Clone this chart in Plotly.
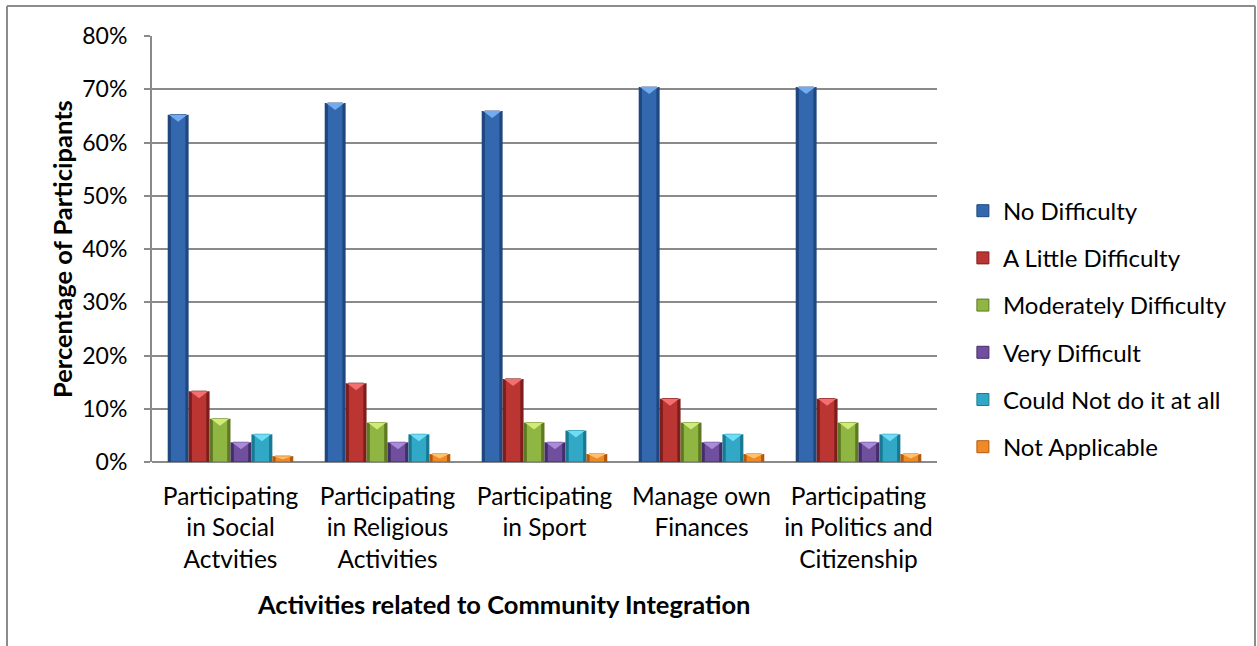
import plotly.graph_objects as go

# Survey results: share of participants by difficulty level, per activity
activities = [
    "Participating<br>in Social<br>Actvities",
    "Participating<br>in Religious<br>Activities",
    "Participating<br>in Sport",
    "Manage own<br>Finances",
    "Participating<br>in Politics and<br>Citizenship",
]
levels = [
    "No Difficulty",
    "A Little Difficulty",
    "Moderately Difficulty",
    "Very Difficult",
    "Could Not do it at all",
    "Not Applicable",
]
no_difficulty = [65.2, 67.4, 65.9, 70.4, 70.4]
a_little_difficulty = [13.3, 14.8, 15.6, 11.9, 11.9]
moderately_difficulty = [8.1, 7.4, 7.4, 7.4, 7.4]
very_difficult = [3.7, 3.7, 3.7, 3.7, 3.7]
could_not_do = [5.2, 5.2, 5.9, 5.2, 5.2]
not_applicable = [1.1, 1.5, 1.5, 1.5, 1.5]
series = [no_difficulty, a_little_difficulty, moderately_difficulty,
          very_difficult, could_not_do, not_applicable]

# (edge, face, highlight) for the bevelled bars
palette = [
    ("#1F4780", "#3468AE", "#72ABEE"),
    ("#7E1F1D", "#BB3533", "#F27070"),
    ("#5E7A22", "#8FB542", "#D2EA7A"),
    ("#452F6A", "#704F9E", "#A98BD8"),
    ("#1A7A93", "#30A8C6", "#6FDDF5"),
    ("#B35A10", "#F08A24", "#FFC070"),
]

FONT = "Lato"
group_width = 0.8
bar_w = group_width / len(series)
px_per_unit = 426 / 80.0  # plot height in px / y-range

fig = go.Figure()
for j, (name, vals) in enumerate(zip(levels, series)):
    edge, face, hi = palette[j]
    xs = [i - group_width / 2 + (j + 0.5) * bar_w for i in range(len(vals))]
    # dark outer body
    fig.add_trace(go.Bar(x=xs, y=vals, width=bar_w, marker_color=edge,
                         marker_line_width=0, showlegend=False,
                         legendgroup=name, hoverinfo="skip"))
    # lighter face
    fig.add_trace(go.Bar(x=xs, y=vals, width=bar_w * 0.74, marker_color=face,
                         marker_line_width=1, name=name, legendgroup=name,
                         marker_line_color=edge))
    # bevel highlight on top of each bar
    tx, ty = [], []
    for x, v in zip(xs, vals):
        h = min(7.0 / px_per_unit, v * 0.55)
        hw = bar_w * 0.44
        tx += [x - hw, x + hw, x, x - hw, None]
        ty += [v, v, v - h, v, None]
    fig.add_trace(go.Scatter(x=tx, y=ty, mode="lines", fill="toself",
                             fillcolor=hi, line=dict(width=0, color=hi),
                             showlegend=False, legendgroup=name,
                             hoverinfo="skip"))

grid = "#8A8A8A"
fig.update_layout(
    width=1257, height=646,
    margin=dict(l=152, r=320, t=36, b=184),
    paper_bgcolor="white", plot_bgcolor="white",
    barmode="overlay",
    font=dict(family=FONT, size=24, color="black"),
    showlegend=True,
    legend=dict(x=1.033, xanchor="left", y=0.312, yanchor="middle",
                font=dict(family=FONT, size=24, color="black"),
                tracegroupgap=13, traceorder="grouped", itemwidth=30,
                bgcolor="rgba(0,0,0,0)"),
    xaxis=dict(range=[-0.5, 4.5], tickmode="array",
               tickvals=list(range(len(activities))), ticktext=activities,
               showgrid=False, zeroline=False, showline=False, ticks="",
               ticklabelstandoff=17,
               tickfont=dict(family=FONT, size=24.5, color="black")),
    yaxis=dict(range=[0, 80], dtick=10, ticksuffix="%",
               showgrid=True, gridcolor=grid, gridwidth=2,
               zeroline=True, zerolinecolor=grid, zerolinewidth=2,
               showline=True, linecolor=grid, linewidth=2,
               ticks="outside", ticklen=6, tickcolor=grid, tickwidth=2,
               ticklabelstandoff=12,
               tickfont=dict(family=FONT, size=23, color="black")),
)

fig.add_annotation(text="<b>Percentage of Participants</b>", textangle=-90,
                   xref="paper", yref="paper", x=(62 - 152) / 785, y=0.5,
                   xanchor="center", yanchor="middle",
                   showarrow=False, font=dict(family=FONT, size=25.5))
fig.add_annotation(text="<b>Activities related to Community Integration</b>",
                   xref="paper", yref="paper", x=(503 - 152) / 785,
                   y=(462 - 604) / 426, xanchor="center", yanchor="middle",
                   showarrow=False, font=dict(family=FONT, size=25.5))

# outer chart frame (open at the bottom)
fx0, fx1 = (7 - 152) / 785, (1255 - 152) / 785
fy_top, fy_bot = (462 - 6) / 426, (462 - 700) / 426
for x0, y0, x1, y1 in [(fx0, fy_top, fx1, fy_top), (fx0, fy_top, fx0, fy_bot),
                       (fx1, fy_top, fx1, fy_bot)]:
    fig.add_shape(type="line", xref="paper", yref="paper", x0=x0, y0=y0,
                  x1=x1, y1=y1, line=dict(color="#8C8C8C", width=2))

fig.write_html("out.html")
